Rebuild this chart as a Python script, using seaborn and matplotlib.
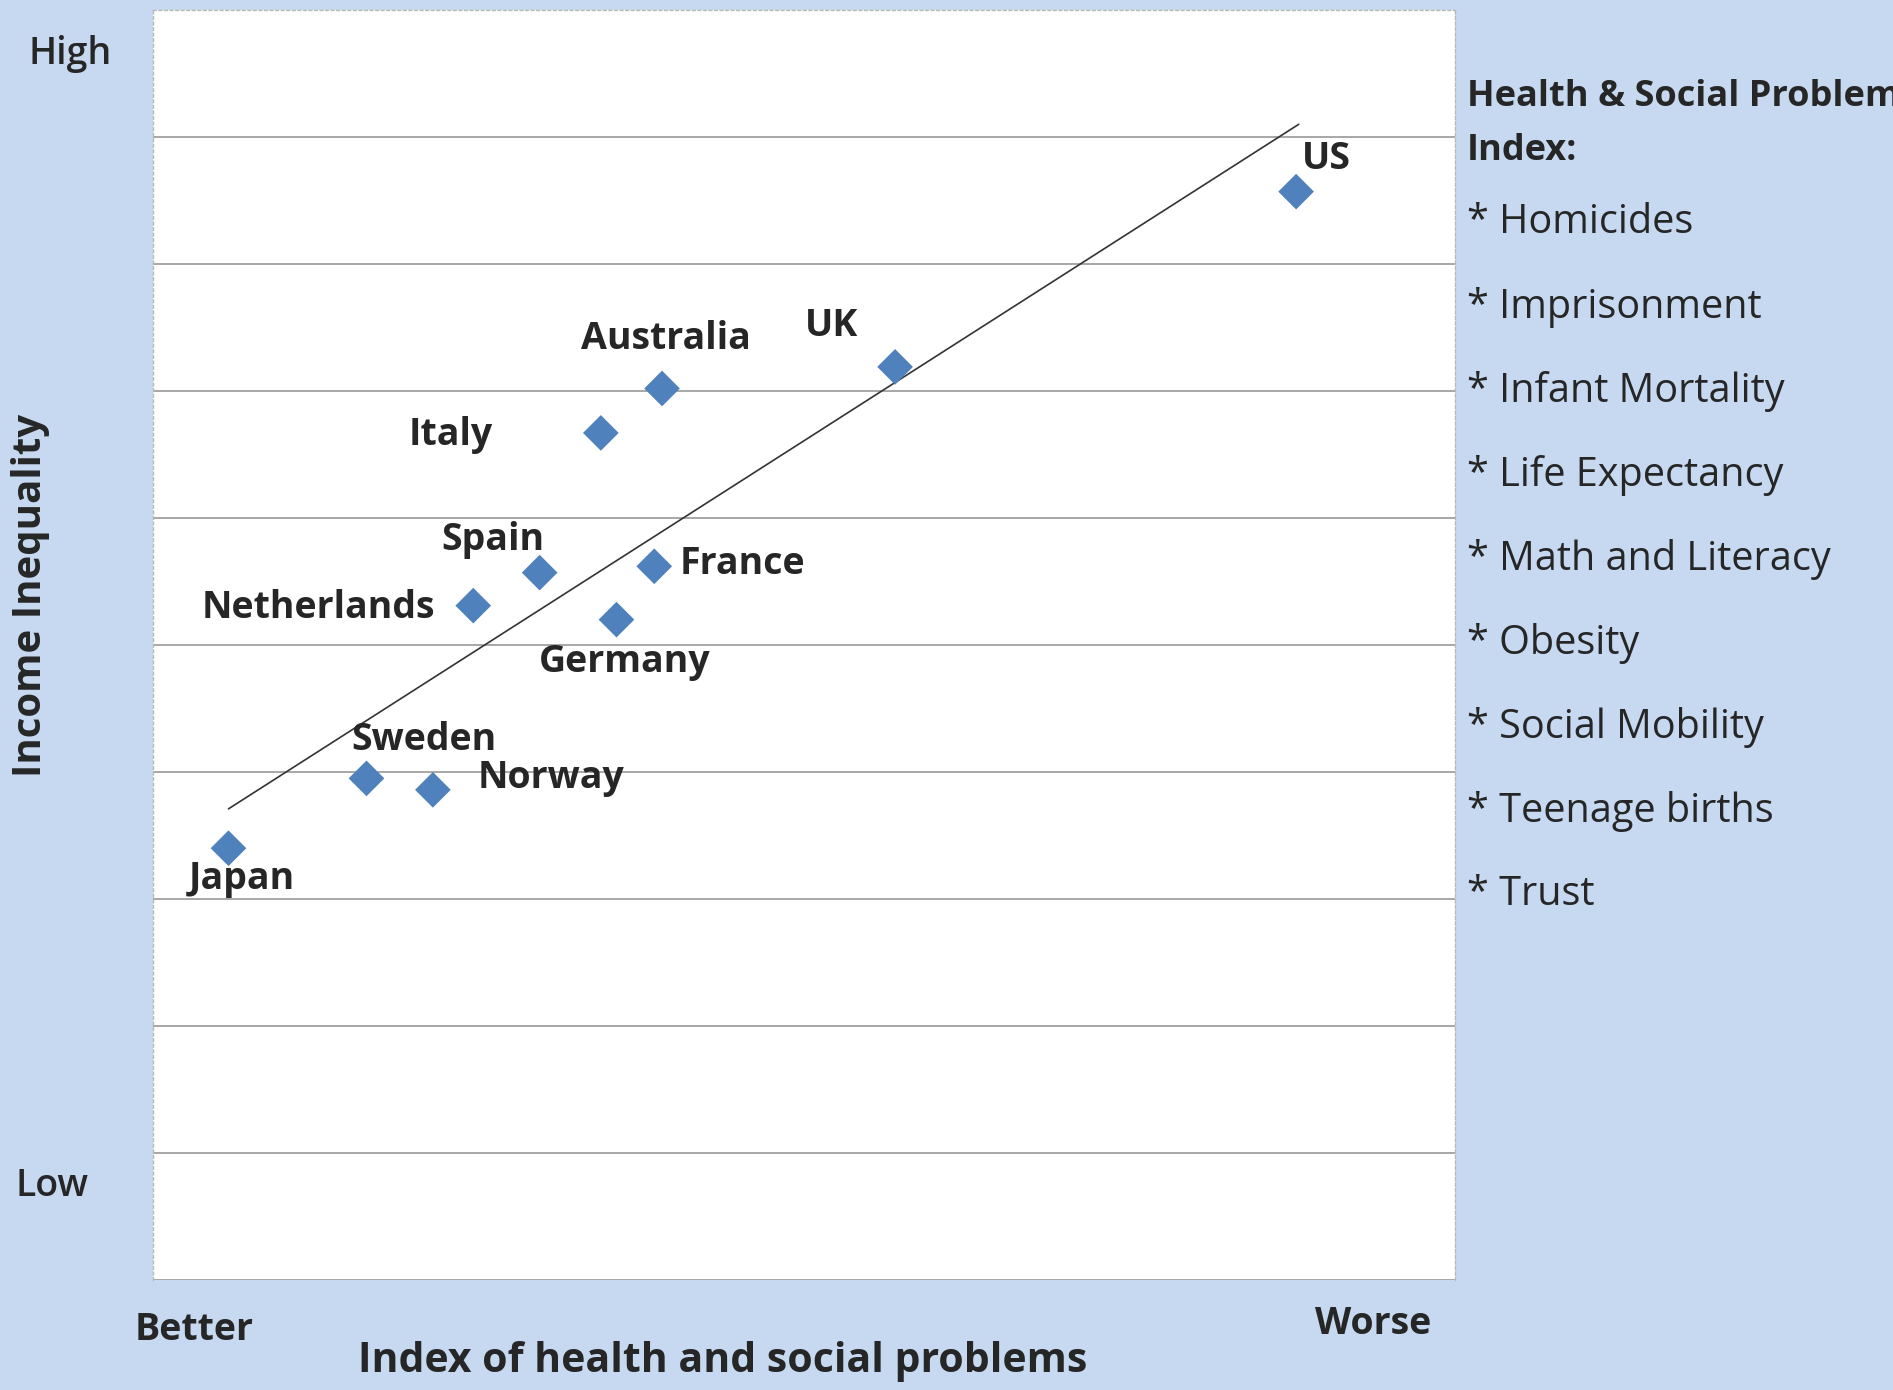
import numpy as np
import pandas as pd
import matplotlib
matplotlib.use("Agg")
import matplotlib.pyplot as plt
import seaborn as sns

# data (both axes on a 0-10 index scale)
countries = ["Japan", "Sweden", "Norway", "Netherlands", "Spain", "Germany",
             "France", "Italy", "Australia", "UK", "US"]
problems_index = [0.58, 1.64, 2.15, 2.46, 2.97, 3.56, 3.85, 3.44, 3.91, 5.70, 8.78]
income_inequality = [3.40, 3.95, 3.86, 5.31, 5.57, 5.20, 5.62, 6.67, 7.02, 7.19, 8.57]

trend_x = [0.58, 8.80]
trend_y = [3.71, 9.10]

index_items = ["Homicides", "Imprisonment", "Infant Mortality", "Life Expectancy",
               "Math and Literacy", "Obesity", "Social Mobility", "Teenage births", "Trust"]

# label offsets from each point (data units)
label_dx = [0.10, 0.44, 0.91, -1.19, -0.36, 0.06, 0.68, -1.15, 0.03, -0.49, 0.23]
label_dy = [-0.24, 0.30, 0.09, -0.02, 0.26, -0.33, 0.02, -0.02, 0.39, 0.32, 0.26]

df = pd.DataFrame({"country": countries, "x": problems_index, "y": income_inequality})

bg = "#C6D9F0"
sns.set_style("white")
plt.rcParams["font.family"] = ["Open Sans", "DejaVu Sans"]

fig = plt.figure(figsize=(18.93, 13.90), dpi=100, facecolor=bg)
ax = fig.add_axes([0.0808, 0.0791, 0.6878, 0.9137])
ax.set_facecolor("white")

# horizontal gridlines
for g in range(1, 10):
    ax.axhline(g, color="#A0A0A0", lw=1.3, zorder=1)
ax.axhline(0, color="#A0A0A0", lw=2, zorder=1)

sns.lineplot(x=trend_x, y=trend_y, ax=ax, color="#333333", lw=1.2, zorder=2)
sns.scatterplot(data=df, x="x", y="y", ax=ax, marker="D", s=330, color="#4F81BD",
                edgecolor="none", zorder=3)

for i, c in enumerate(countries):
    ax.text(problems_index[i] + label_dx[i], income_inequality[i] + label_dy[i], c,
            ha="center", va="center", fontsize=27, fontweight="bold", zorder=4)

ax.set_xlim(0, 10)
ax.set_ylim(0, 10)
ax.set_xticks([])
ax.set_yticks([])
ax.set_xlabel("")
ax.set_ylabel("")
for side in ["left", "top", "right"]:
    ax.spines[side].set_color("#B8B8B8")
    ax.spines[side].set_linestyle((0, (2, 2)))
    ax.spines[side].set_linewidth(1)
ax.spines["bottom"].set_visible(False)

# axis annotations
fig.text(70 / 1893, 1 - 54 / 1390, "High", ha="center", va="center",
         fontsize=27, fontweight="semibold")
fig.text(52 / 1893, 1 - 1186 / 1390, "Low", ha="center", va="center",
         fontsize=27, fontweight="semibold")
fig.text(31 / 1893, 1 - 595 / 1390, "Income Inequality", ha="center", va="center",
         rotation=90, fontsize=29, fontweight="bold")
fig.text(194 / 1893, 1 - 1330 / 1390, "Better", ha="center", va="center",
         fontsize=27, fontweight="bold")
fig.text(1373 / 1893, 1 - 1324 / 1390, "Worse", ha="center", va="center",
         fontsize=27, fontweight="bold")
fig.text(723 / 1893, 1 - 1362 / 1390, "Index of health and social problems",
         ha="center", va="center", fontsize=29.5, fontweight="bold")

# side panel (header runs off the right edge, as in the source)
x0 = 1467 / 1893
fig.text(x0, 1 - 97 / 1390, "Health & Social Problem", ha="left", va="center",
         fontsize=26, fontweight="bold")
fig.text(x0, 1 - 151 / 1390, "Index:", ha="left", va="center",
         fontsize=26, fontweight="bold")
for k, item in enumerate(index_items):
    fig.text(x0, 1 - (223 + 84 * k) / 1390, "* " + item, ha="left", va="center",
             fontsize=28.5)

fig.savefig("out.png", dpi=100, facecolor=bg)
